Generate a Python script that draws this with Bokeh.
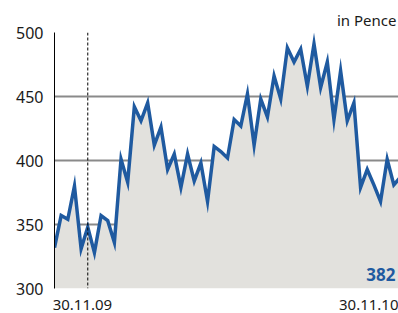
from bokeh.plotting import figure
from bokeh.models import Range1d, Span, Label, FixedTicker
from bokeh.embed import file_html
from bokeh.resources import INLINE

# weekly share price, in pence
prices = [332, 357, 354, 380, 331, 348, 328, 357, 353, 336,
          401, 383, 442, 431, 445, 412, 426, 393, 405, 379,
          405, 384, 398, 368, 411, 407, 402, 432, 427, 452,
          412, 448, 434, 466, 448, 488, 477, 487, 458, 491,
          457, 477, 432, 470, 431, 445, 379, 393, 381, 368,
          401, 381, 387]
weeks = list(range(len(prices)))
marker_week = 5
y_ticks = [300, 350, 400, 450, 500]
x_tick_pos = [4.2, 47.5]
x_tick_labels = ["30.11.09", "30.11.10"]
last_value = "382"
unit_text = "in Pence"

FONT = "Noto Sans"
BLUE = "#1f5aa0"
TXT = "#1a1a1a"

p = figure(width=398, height=313, output_backend="svg", toolbar_location=None,
           x_range=Range1d(0, 51.7), y_range=Range1d(300, 500),
           min_border_left=54, min_border_right=0, min_border_top=32,
           min_border_bottom=25)
p.outline_line_color = None
p.background_fill_color = "white"

p.title.text = unit_text
p.title.align = "right"
p.title.text_font = FONT
p.title.text_font_size = "15px"
p.title.text_font_style = "normal"
p.title.text_color = TXT
p.title.offset = 2
p.title.standoff = 5

p.varea(x=weeks, y1=[300] * len(prices), y2=prices, fill_color="#e2e1dd")
p.line(x=weeks, y=prices, line_color=BLUE, line_width=3.5, line_join="miter")

p.add_layout(Span(location=marker_week, dimension="height", line_color="black",
                  line_width=1, line_dash="3 2"))

p.xgrid.visible = False
p.ygrid.grid_line_color = "#8a8a8a"
p.ygrid.grid_line_width = 2
p.yaxis.ticker = FixedTicker(ticks=y_ticks)
p.yaxis.major_tick_line_color = None
p.yaxis.major_tick_out = 0
p.yaxis.major_tick_in = 0
p.yaxis.minor_tick_line_color = None
p.yaxis.axis_line_color = "black"
p.yaxis.axis_line_width = 1
p.yaxis.major_label_text_font = FONT
p.yaxis.major_label_text_font_size = "16px"
p.yaxis.major_label_text_color = TXT
p.yaxis.major_label_standoff = 11

p.xaxis.ticker = FixedTicker(ticks=x_tick_pos)
p.xaxis.major_label_overrides = {t: l for t, l in zip(x_tick_pos, x_tick_labels)}
p.xaxis.axis_line_color = None
p.xaxis.major_tick_line_color = None
p.xaxis.major_tick_out = 0
p.xaxis.major_tick_in = 0
p.xaxis.minor_tick_line_color = None
p.xaxis.major_label_text_font = FONT
p.xaxis.major_label_text_font_size = "15px"
p.xaxis.major_label_text_color = TXT
p.xaxis.major_label_standoff = 11

p.add_layout(Label(x=51.7, y=300, text=last_value, text_align="right",
                   text_baseline="bottom", x_offset=-3, y_offset=8,
                   text_font=FONT, text_font_size="17px", text_font_style="bold",
                   text_color=BLUE))

open("out.html", "w").write(file_html(p, INLINE))
